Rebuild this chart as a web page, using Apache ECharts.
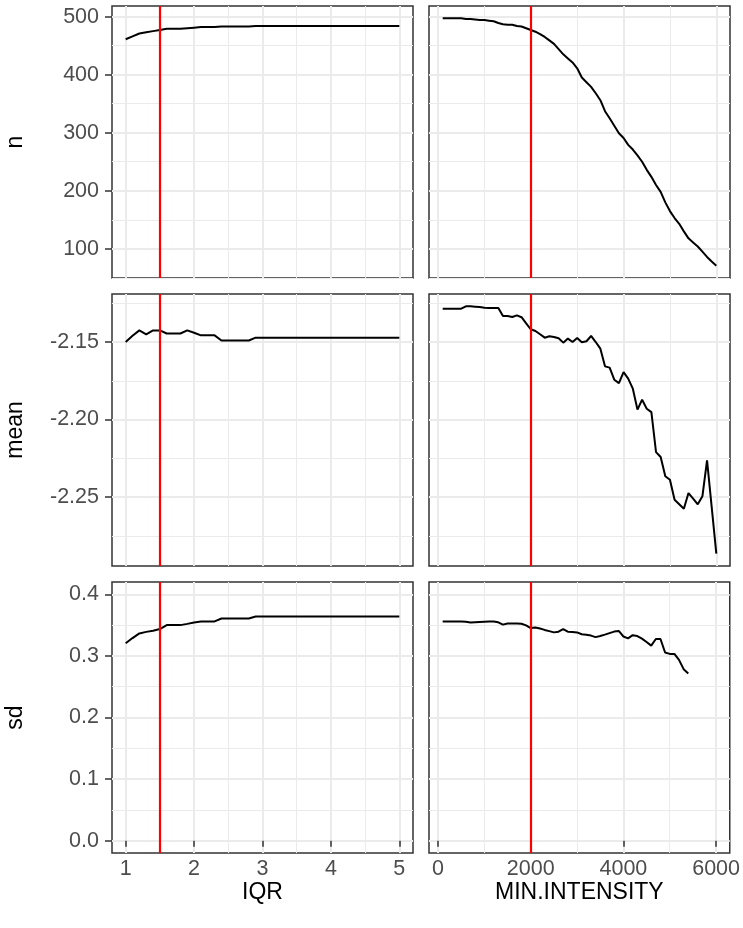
<!DOCTYPE html>
<html><head><meta charset="utf-8">
<script src="https://cdn.jsdelivr.net/npm/echarts@6/dist/echarts.min.js"></script>
<style>html,body{margin:0;padding:0;background:#fff}#c{width:743px;height:928px}</style>
</head><body><div id="c"></div>
<script>
// ---------- data ----------
const colNames = ['IQR', 'MIN.INTENSITY'];
const rowNames = ['n', 'mean', 'sd'];
const cutoffs = [1.5, 2000];

const iqrX = [1.0,1.1,1.2,1.3,1.4,1.5,1.6,1.7,1.8,1.9,2.0,2.1,2.2,2.3,2.4,2.5,2.6,2.7,2.8,2.9,
  3.0,3.1,3.2,3.3,3.4,3.5,3.6,3.7,3.8,3.9,4.0,4.1,4.2,4.3,4.4,4.5,4.6,4.7,4.8,4.9,5.0];
const iqrN = [461,466,471,473,475,477,479,479,479,480,481,482,482,482,483,483,483,483,483,484,
  484,484,484,484,484,484,484,484,484,484,484,484,484,484,484,484,484,484,484,484,484];
const iqrMean = [-2.150,-2.146,-2.1425,-2.145,-2.1425,-2.1425,-2.1445,-2.1445,-2.1445,-2.1425,
  -2.144,-2.1457,-2.1457,-2.1457,-2.149,-2.149,-2.149,-2.149,-2.149,-2.1472,
  -2.1472,-2.1472,-2.1472,-2.1472,-2.1472,-2.1472,-2.1472,-2.1472,-2.1472,-2.1472,-2.1472,
  -2.1472,-2.1472,-2.1472,-2.1472,-2.1472,-2.1472,-2.1472,-2.1472,-2.1472,-2.1472];
const iqrSd = [0.3205,0.329,0.3365,0.339,0.341,0.3436,0.350,0.350,0.350,0.352,
  0.3543,0.356,0.356,0.356,0.3607,0.3607,0.3607,0.3607,0.3607,0.3639,
  0.3639,0.3639,0.3639,0.3639,0.3639,0.3639,0.3639,0.3639,0.3639,0.3639,0.3639,
  0.3639,0.3639,0.3639,0.3639,0.3639,0.3639,0.3639,0.3639,0.3639,0.3639];

const minIntX = [100,200,300,400,500,600,700,800,900,1000,1100,1200,1300,1400,1500,1600,1700,1800,1900,2000,
  2100,2200,2300,2400,2500,2600,2700,2800,2900,3000,3100,3200,3300,3400,3500,3600,3700,3800,3900,4000,
  4100,4200,4300,4400,4500,4600,4700,4800,4900,5000,5100,5200,5300,5400,5500,5600,5700,5800,5900,6000];
const minIntN = [497,497,497,497,497,496,496,495,494,494,493,492,489,487,486,486,484,483,480,477,
  474,470,465,459,453,444,435,428,421,411,395,387,379,368,356,337,325,312,299,291,
  279,271,261,250,236,224,210,198,180,165,153,143,130,118,111,104,95,86,78,71];
const minIntMean = [-2.1285,-2.1285,-2.1285,-2.1285,-2.1285,-2.127,-2.127,-2.1272,-2.1274,-2.1279,
  -2.128,-2.128,-2.128,-2.1332,-2.1332,-2.1339,-2.1328,-2.134,-2.138,-2.1418,
  -2.1429,-2.145,-2.1472,-2.1463,-2.1468,-2.1476,-2.1504,-2.1478,-2.150,-2.1474,
  -2.1502,-2.1495,-2.1461,-2.150,-2.1543,-2.1657,-2.1665,-2.1743,-2.1765,-2.1694,
  -2.1736,-2.1801,-2.1936,-2.1872,-2.193,-2.1952,-2.221,-2.2242,-2.2366,-2.2388,
  -2.2517,-2.2546,-2.2575,-2.2474,-2.251,-2.2547,-2.2495,-2.2263,-2.2564,-2.2865];
const minIntSd = [0.3559,0.3559,0.3559,0.3559,0.3559,0.3555,0.3543,0.3548,0.3552,0.3555,
  0.3557,0.3559,0.3545,0.3508,0.3527,0.3527,0.3527,0.3522,0.3495,0.3452,
  0.3462,0.3445,0.3422,0.3402,0.3382,0.3393,0.3436,0.3393,0.3388,0.3382,
  0.3352,0.3342,0.333,0.3305,0.3322,0.3345,0.337,0.3395,0.3405,0.3315,
  0.3285,0.3337,0.3322,0.328,0.3225,0.3167,0.3275,0.3275,0.3055,0.3033,
  0.3033,0.2935,0.2785,0.2715,null,null,null,null,null,null];

const xTicks = [[1,2,3,4,5],[0,2000,4000,6000]];
const yTicks = [[100,200,300,400,500],[-2.25,-2.20,-2.15],[0.0,0.1,0.2,0.3,0.4]];
const sdLimits = [0, 0.4];

// ---------- layout ----------
const FONT = 'Liberation Sans';
const colLeft = [112, 429], colWidth = 301;
const rowTop = [6, 294, 582], rowHeight = [272, 272, 271];

function ext(vals) {
  const v = vals.filter(d => d != null);
  const lo = Math.min(...v), hi = Math.max(...v), e = (hi - lo) * 0.05;
  return [lo - e, hi + e];
}
const xExt = [ext(iqrX), ext(minIntX)];
const yExt = [ext(iqrN.concat(minIntN)), ext(iqrMean.concat(minIntMean)), ext(sdLimits)];
const xSplit = [5, 3];
const ySplit = [5, 3, 5];
const yFmt = [v => String(Math.round(v)), v => v.toFixed(2), v => v.toFixed(1)];

const seriesData = [
  [[iqrX, iqrN], [minIntX, minIntN]],
  [[iqrX, iqrMean], [minIntX, minIntMean]],
  [[iqrX, iqrSd], [minIntX, minIntSd]]
];

const grids = [], xAxes = [], yAxes = [], series = [];
const splitMajor = {show: true, lineStyle: {color: '#ebebeb', width: 2}};
const splitMinor = {show: true, lineStyle: {color: '#ebebeb', width: 1}};
const tickStyle = {color: '#333333', width: 1.5};
for (let r = 0; r < 3; r++) {
  for (let c = 0; c < 2; c++) {
    const g = r * 2 + c;
    grids.push({left: colLeft[c], top: rowTop[r], width: colWidth, height: rowHeight[r],
      show: true, borderColor: '#333333', borderWidth: 1.5, backgroundColor: '#fff', containLabel: false});
    const bottom = r === 2;
    xAxes.push({
      type: 'value', gridIndex: g, min: xExt[c][0], max: xExt[c][1], splitNumber: xSplit[c],
      axisLine: {show: false},
      axisTick: {show: bottom, length: 6, lineStyle: tickStyle, customValues: xTicks[c]},
      axisLabel: {show: bottom, customValues: xTicks[c], margin: 5, color: '#4d4d4d', fontSize: 21.5, fontFamily: FONT,
        formatter: v => String(Math.round(v))},
      splitLine: splitMajor,
      minorTick: {show: false, splitNumber: 2},
      minorSplitLine: splitMinor,
      name: bottom ? colNames[c] : '', nameLocation: 'middle', nameGap: 23,
      nameTextStyle: {color: '#000', fontSize: 23, fontFamily: FONT}
    });
    const left = c === 0;
    yAxes.push({
      type: 'value', gridIndex: g, min: yExt[r][0], max: yExt[r][1], splitNumber: ySplit[r],
      axisLine: {show: false},
      axisTick: {show: left, length: 7, lineStyle: tickStyle, customValues: yTicks[r]},
      axisLabel: {show: left, customValues: yTicks[r], margin: 13, color: '#4d4d4d', fontSize: 21.5, fontFamily: FONT,
        formatter: yFmt[r]},
      splitLine: splitMajor,
      minorTick: {show: false, splitNumber: 2},
      minorSplitLine: splitMinor,
      name: left ? rowNames[r] : '', nameLocation: 'middle', nameGap: 85, nameRotate: 90,
      nameTextStyle: {color: '#000', fontSize: 23, fontFamily: FONT}
    });
    const [xs, ys] = seriesData[r][c];
    series.push({
      type: 'line', xAxisIndex: g, yAxisIndex: g,
      data: xs.map((x, i) => [x, ys[i]]),
      showSymbol: false, symbol: 'none', connectNulls: false,
      lineStyle: {color: '#000', width: 2}, itemStyle: {color: '#000'},
      silent: true, animation: false,
      markLine: {
        silent: true, symbol: ['none', 'none'], animation: false,
        label: {show: false},
        lineStyle: {color: '#ff0000', width: 2.2, type: 'solid'},
        emphasis: {disabled: true},
        data: [{xAxis: cutoffs[c]}]
      }
    });
  }
}

const chart = echarts.init(document.getElementById('c'), null, {renderer: 'canvas'});
chart.setOption({
  animation: false,
  backgroundColor: '#fff',
  textStyle: {fontFamily: FONT},
  grid: grids, xAxis: xAxes, yAxis: yAxes, series: series
});
</script>
</body></html>
